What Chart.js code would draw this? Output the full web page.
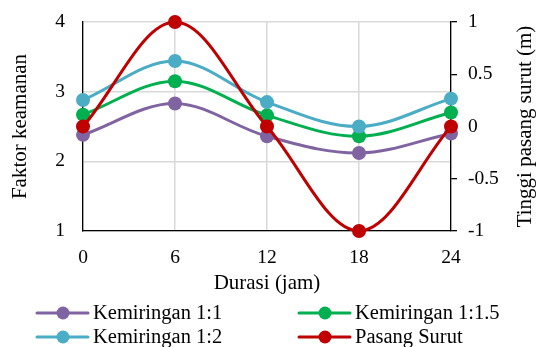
<!DOCTYPE html>
<html>
<head>
<meta charset="utf-8">
<script src="https://cdn.jsdelivr.net/npm/chart.js@4/dist/chart.umd.min.js"></script>
<style>
  html, body { margin: 0; padding: 0; background: #ffffff; }
  #wrap { width: 541px; height: 347px; }
</style>
</head>
<body>
<div id="wrap"><canvas id="c" width="541" height="347"></canvas></div>
<script>
// Durasi (jam)
const hours = [0, 6, 12, 18, 24];

// Faktor keamanan per kemiringan lereng
const kemiringan11 = [2.38, 2.83, 2.36, 2.12, 2.40];
const kemiringan115 = [2.67, 3.15, 2.66, 2.36, 2.70];
const kemiringan12 = [2.88, 3.44, 2.85, 2.50, 2.90];

// Tinggi pasang surut (m)
const pasangSurut = [0, 1, 0, -1, 0];

const seriesLabels = ['Kemiringan 1:1', 'Kemiringan 1:1.5', 'Kemiringan 1:2', 'Pasang Surut'];
const seriesColors = ['#8064A2', '#00B050', '#4BACC6', '#C00000'];
const rightAxisTitle = 'Tinggi pasang surut (m)';

const FONT = '"Liberation Serif", "Times New Roman", serif';

function points(values) {
  return hours.map((h, i) => ({ x: h, y: values[i] }));
}

function series(idx, values, axis, order) {
  return {
    label: seriesLabels[idx],
    data: points(values),
    yAxisID: axis,
    borderColor: seriesColors[idx],
    backgroundColor: seriesColors[idx],
    pointBackgroundColor: seriesColors[idx],
    borderWidth: 3,
    pointRadius: 7,
    pointHoverRadius: 7,
    pointBorderWidth: 0,
    tension: 0.35,
    clip: false,
    order: order
  };
}

// Keep the plot edges fixed by layout padding alone
function noEdgePadding(s) {
  s.paddingTop = 0;
  s.paddingBottom = 0;
  s.paddingLeft = 0;
  s.paddingRight = 0;
}

// Right-axis title, reading bottom-to-top like the left one
const rightTitle = {
  id: 'rightTitle',
  afterDraw(chart) {
    const area = chart.chartArea;
    const ctx = chart.ctx;
    ctx.save();
    ctx.font = '21px ' + FONT;
    ctx.fillStyle = '#000000';
    ctx.textAlign = 'center';
    ctx.textBaseline = 'middle';
    ctx.translate(chart.width - 16, (area.top + area.bottom) / 2);
    ctx.rotate(-Math.PI / 2);
    ctx.fillText(rightAxisTitle, 0, 0);
    ctx.restore();
  }
};

// Two-column legend drawn under the x-axis title
const columnLegend = {
  id: 'columnLegend',
  afterDraw(chart) {
    const ctx = chart.ctx;
    const cols = [37, 299];
    const rows = [chart.height - 34, chart.height - 10];
    ctx.save();
    ctx.font = '20.5px ' + FONT;
    ctx.textBaseline = 'middle';
    ctx.textAlign = 'left';
    chart.data.datasets.forEach((ds, i) => {
      const x = cols[i % 2];
      const y = rows[Math.floor(i / 2)];
      ctx.strokeStyle = ds.borderColor;
      ctx.lineWidth = 3;
      ctx.lineCap = 'round';
      ctx.beginPath();
      ctx.moveTo(x, y);
      ctx.lineTo(x + 51, y);
      ctx.stroke();
      ctx.fillStyle = ds.borderColor;
      ctx.beginPath();
      ctx.arc(x + 26, y, 6.5, 0, Math.PI * 2);
      ctx.fill();
      ctx.fillStyle = '#000000';
      ctx.fillText(ds.label, x + 56, y + 1);
    });
    ctx.restore();
  }
};

new Chart(document.getElementById('c'), {
  type: 'line',
  data: {
    datasets: [
      series(0, kemiringan11, 'y', 4),
      series(1, kemiringan115, 'y', 3),
      series(2, kemiringan12, 'y', 2),
      series(3, pasangSurut, 'y2', 1)
    ]
  },
  options: {
    responsive: false,
    animation: false,
    events: [],
    layout: { padding: { top: 22, bottom: 46, left: 0, right: 0 } },
    plugins: {
      legend: { display: false },
      tooltip: { enabled: false }
    },
    scales: {
      x: {
        type: 'linear',
        min: 0,
        max: 24,
        afterFit(s) { noEdgePadding(s); s.height = 70; },
        ticks: {
          stepSize: 6,
          padding: 15,
          color: '#000000',
          font: { family: FONT, size: 19.5 }
        },
        grid: { color: '#D9D9D9', lineWidth: 1.5, drawTicks: false },
        border: { color: '#000000', width: 1.3 },
        title: {
          display: true,
          text: 'Durasi (jam)',
          color: '#000000',
          font: { family: FONT, size: 21 },
          padding: 5
        }
      },
      y: {
        position: 'left',
        min: 1,
        max: 4,
        afterFit(s) { noEdgePadding(s); s.width = 83; },
        ticks: {
          stepSize: 1,
          padding: 18,
          color: '#000000',
          font: { family: FONT, size: 19.5 }
        },
        grid: { color: '#D9D9D9', lineWidth: 1.5, drawTicks: false },
        border: { color: '#000000', width: 1.3 },
        title: {
          display: true,
          text: 'Faktor keamanan',
          color: '#000000',
          font: { family: FONT, size: 21 },
          padding: 8
        }
      },
      y2: {
        position: 'right',
        min: -1,
        max: 1,
        afterFit(s) { noEdgePadding(s); s.width = 90; },
        ticks: {
          stepSize: 0.5,
          padding: 11,
          color: '#000000',
          font: { family: FONT, size: 19.5 },
          callback: (v) => String(Math.round(v * 10) / 10)
        },
        grid: { drawOnChartArea: false, color: '#000000', lineWidth: 1.3, tickLength: 6 },
        border: { color: '#000000', width: 1.3 }
      }
    }
  },
  plugins: [rightTitle, columnLegend]
});
</script>
</body>
</html>
